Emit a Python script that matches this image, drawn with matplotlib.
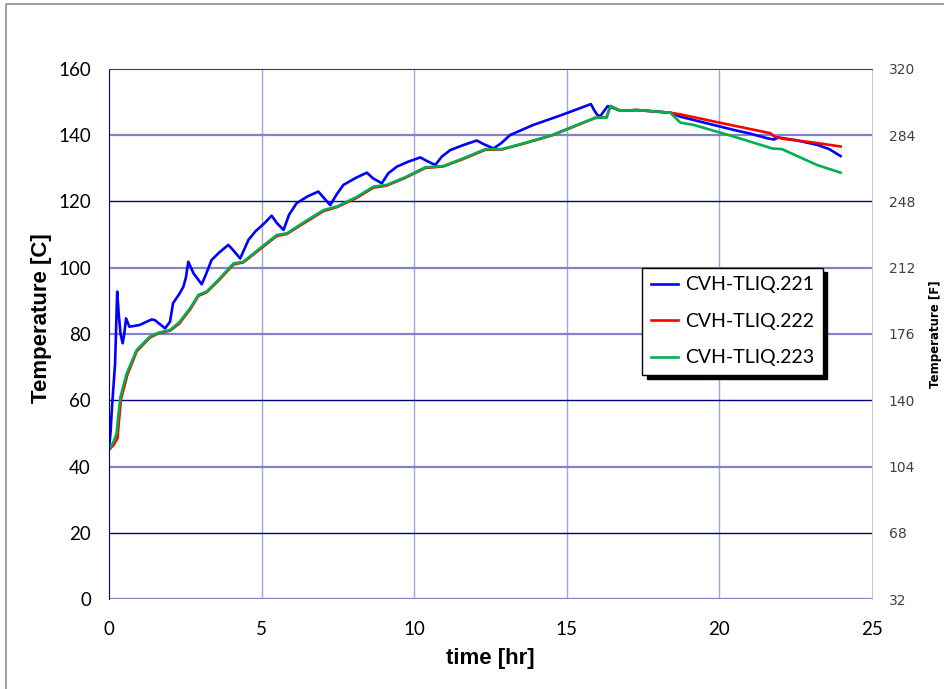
import matplotlib
matplotlib.use("Agg")
import matplotlib.pyplot as plt
from matplotlib.lines import Line2D

# data
t_221 = [0.0, 0.05, 0.1, 0.2, 0.27, 0.32, 0.38, 0.45, 0.5, 0.56, 0.67, 1.0, 1.4, 1.5,
         1.84, 2.0, 2.1, 2.3, 2.44, 2.52, 2.6, 2.77, 3.04, 3.2, 3.36, 3.6, 3.91, 4.05,
         4.3, 4.57, 4.8, 5.1, 5.33, 5.5, 5.72, 5.9, 6.15, 6.5, 6.86, 7.0, 7.25, 7.45,
         7.68, 8.1, 8.45, 8.65, 8.94, 9.15, 9.43, 9.8, 10.2, 10.4, 10.69, 10.9, 11.18,
         11.6, 12.05, 12.3, 12.6, 12.85, 13.15, 13.9, 14.8, 15.79, 15.9, 16.0, 16.1,
         16.34, 16.5, 16.75, 17.3, 18.39, 18.72, 19.5, 20.47, 21.0, 21.56, 21.78, 21.94,
         22.5, 23.2, 23.6, 23.97]
T_221 = [45.5, 50, 58, 71, 92.8, 86, 80, 77.2, 80, 84.7, 82.2, 82.7, 84.4, 84.2,
         81.7, 83.7, 89.3, 92, 94.3, 97, 101.8, 98.3, 95.0, 98.5, 102.3, 104.5, 106.9, 105.5,
         102.8, 108.4, 111, 113.5, 115.7, 113.5, 111.4, 116, 119.5, 121.5, 123.0, 121.5, 118.9, 122,
         125.0, 127.2, 128.7, 127, 125.5, 128.5, 130.5, 132, 133.3, 132.3, 131.0, 133.5, 135.5,
         137, 138.4, 137.2, 136.0, 137.6, 140.1, 143.1, 146, 149.4, 147.5, 146.1, 145.8,
         148.8, 148.3, 147.4, 147.6, 146.8, 145.6, 143.8, 141.6, 140.5, 139.1, 138.7, 139.3,
         138.5, 137.1, 135.8, 133.7]

t_222 = [0.0, 0.15, 0.28, 0.33, 0.4, 0.6, 0.91, 1.34, 1.62, 2.0, 2.3, 2.66, 2.93, 3.2,
         3.6, 4.08, 4.4, 4.95, 5.5, 5.83, 6.4, 7.03, 7.47, 8.1, 8.67, 9.1, 9.7, 10.36,
         10.96, 11.6, 12.33, 12.87, 13.6, 14.5, 15.93, 16.3, 16.43, 16.75, 17.3, 18.39,
         18.72, 20.0, 21.67, 21.8, 22.1, 23.0, 23.97]
T_222 = [45.0, 46.5, 48.5, 54, 60.5, 67.6, 74.8, 78.9, 80.2, 81.0, 83.1, 87.4, 91.5, 92.6,
         96.2, 101.0, 101.6, 105.6, 109.6, 110.2, 113.5, 117.1, 118.3, 121.0, 124.2, 124.8, 127.1, 130.1,
         130.6, 132.8, 135.6, 135.7, 137.5, 139.9, 145.2, 145.4, 148.8, 147.4, 147.6, 146.8,
         146.3, 143.8, 140.6, 139.6, 138.9, 137.9, 136.6]

t_223 = [0.0, 0.15, 0.25, 0.3, 0.38, 0.58, 0.91, 1.34, 1.62, 2.0, 2.3, 2.66, 2.93, 3.2,
         3.6, 4.08, 4.4, 4.95, 5.5, 5.83, 6.4, 7.03, 7.47, 8.1, 8.67, 9.1, 9.7, 10.36,
         10.96, 11.6, 12.33, 12.87, 13.6, 14.5, 15.93, 16.3, 16.43, 16.75, 17.3, 18.39,
         18.72, 19.16, 20.47, 21.73, 22.05, 22.6, 23.2, 23.97]
T_223 = [45.2, 47.5, 50, 55, 61.1, 68.1, 75.2, 79.2, 80.4, 81.2, 83.5, 87.8, 91.8, 92.8,
         96.5, 101.3, 101.8, 105.9, 109.9, 110.4, 113.8, 117.4, 118.5, 121.3, 124.5, 125.0, 127.3, 130.3,
         130.7, 133, 135.8, 135.8, 137.6, 140, 145.3, 145.3, 148.8, 147.4, 147.6, 146.8,
         143.8, 143.1, 139.6, 136.0, 135.8, 133.5, 131.0, 128.7]

x_ticks = [0, 5, 10, 15, 20, 25]
y_ticks = [0, 20, 40, 60, 80, 100, 120, 140, 160]
f_ticks = [32, 68, 104, 140, 176, 212, 248, 284, 320]

fig = plt.figure(figsize=(9.45, 6.89), dpi=100)
ax = fig.add_axes([0.1153, 0.1306, 0.8075, 0.7693])

# outer frame of the original picture (left and top only)
fig.add_artist(Line2D([6 / 945, 6 / 945, 1], [0, 1 - 4 / 689, 1 - 4 / 689],
                      transform=fig.transFigure, color="#8c8c8c", lw=1.2))

# gridlines - the original alternates two styles
for x in x_ticks[1:-1]:
    ax.axvline(x, color="#a4a4dc", lw=1.0, zorder=0)
for y in y_ticks[:-1]:
    if y in (20, 60, 120):
        ax.axhline(y, color="#000080", lw=1.0, zorder=0)
    else:
        ax.axhline(y, color="#8282c8", lw=1.6, zorder=0)

ax.plot(t_221, T_221, color="#0000ff", lw=1.9, label="CVH-TLIQ.221")
ax.plot(t_222, T_222, color="#ff0000", lw=1.9, label="CVH-TLIQ.222")
ax.plot(t_223, T_223, color="#00b050", lw=1.9, label="CVH-TLIQ.223")

ax.set_xlim(0, 25)
ax.set_ylim(0, 160)
ax.set_xticks(x_ticks)
ax.set_yticks(y_ticks)
ax.tick_params(length=0, labelsize=13.5)
ax.tick_params(axis="x", pad=16)
ax.tick_params(axis="y", pad=13)
for lab in ax.get_xticklabels() + ax.get_yticklabels():
    lab.set_fontfamily("Lato")

ax.spines["left"].set_color("#000080")
ax.spines["bottom"].set_visible(False)
ax.spines["top"].set_color("#404040")
ax.spines["right"].set_color("#c8c8c8")
ax.spines["right"].set_linestyle((0, (1, 1)))

ax.set_xlabel("time [hr]", fontsize=16, fontweight="bold", family="Liberation Sans")
ax.xaxis.set_label_coords(0.5, -0.092)
ax.set_ylabel("Temperature [C]", fontsize=16, fontweight="bold", family="Liberation Sans")
ax.yaxis.set_label_coords(-0.074, 0.53)

sec = ax.secondary_yaxis("right", functions=(lambda c: c * 9 / 5 + 32, lambda f: (f - 32) * 5 / 9))
sec.set_yticks(f_ticks)
sec.tick_params(length=0, labelsize=10, pad=12, labelcolor="#404040")
sec.spines["right"].set_visible(False)
sec.set_ylabel("Temperature [F]", fontsize=8.5, fontweight="bold", labelpad=10)

leg = ax.legend(loc="upper left", bbox_to_anchor=(0.699, 0.625), borderaxespad=0,
                frameon=True, fancybox=False, handlelength=1.4, handletextpad=0.35,
                labelspacing=1.0, borderpad=0.45, prop={"family": "Lato", "size": 14},
                shadow={"color": "black", "alpha": 1.0, "ox": 3, "oy": -3})
leg.get_frame().set_edgecolor("black")
leg.get_frame().set_linewidth(1.0)

fig.savefig("out.png", dpi=100)
